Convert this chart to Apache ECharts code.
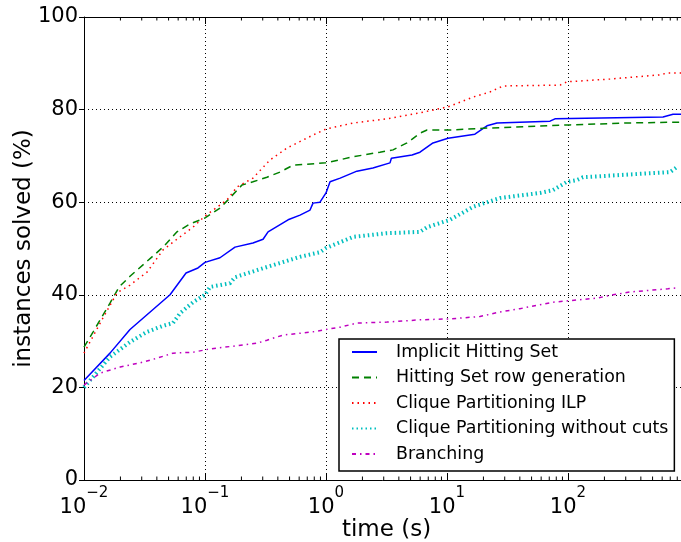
<!DOCTYPE html>
<html>
<head>
<meta charset="utf-8">
<script src="https://cdn.jsdelivr.net/npm/echarts@6/dist/echarts.min.js"></script>
<style>
html,body{margin:0;padding:0;background:#fff;}
#chart{width:681px;height:542px;}
</style>
</head>
<body>
<div id="chart"></div>
<script>
// ---- data ----
const seriesNames = [
  'Implicit Hitting Set',
  'Hitting Set row generation',
  'Clique Partitioning ILP',
  'Clique Partitioning without cuts',
  'Branching'
];
const ihsTime = [0.01, 0.0164, 0.024, 0.0514, 0.0697, 0.0875, 0.1, 0.133, 0.177, 0.249, 0.302, 0.332, 0.486, 0.61, 0.738, 0.781, 0.892, 1.0, 1.08, 1.31, 1.8, 2.44, 3.38, 3.47, 5.14, 5.98, 7.66, 10.2, 17.0, 21.4, 25.9, 71, 78, 610, 738, 860];
const ihsVal  = [21.5, 27.4, 32.5, 40, 44.7, 45.8, 47, 48, 50.3, 51.2, 52, 53.6, 56.2, 57.2, 58.3, 59.8, 60, 62, 64.4, 65.2, 66.7, 67.4, 68.5, 69.5, 70.2, 70.8, 72.8, 73.8, 74.7, 76.5, 77.1, 77.5, 78, 78.4, 79, 79];
const rowTime = [0.01, 0.0119, 0.0164, 0.0195, 0.024, 0.0365, 0.045, 0.0587, 0.0752, 0.1, 0.133, 0.155, 0.202, 0.249, 0.325, 0.417, 0.534, 1.0, 1.67, 2.79, 3.58, 4.67, 5.98, 6.84, 10.6, 21.4, 104, 307, 860];
const rowVal  = [28.7, 32, 38.2, 41.7, 44, 48.2, 50.3, 53.6, 55.3, 56.6, 58.7, 60.5, 63.7, 64.4, 65.4, 66.5, 68, 68.5, 69.8, 70.8, 71.3, 72.8, 74.9, 75.6, 75.6, 76, 76.7, 77.1, 77.3];
const ilpTime = [0.01, 0.0136, 0.0187, 0.024, 0.0332, 0.045, 0.0621, 0.0796, 0.1, 0.152, 0.184, 0.249, 0.344, 0.476, 0.781, 1.0, 1.67, 3.19, 5.98, 10.2, 11.2, 16.4, 22.6, 29, 86, 98, 222, 575, 658, 860];
const ilpVal  = [27.4, 33.9, 40.4, 42.1, 44.9, 49.7, 52.5, 54.6, 57, 60.5, 63.3, 65.2, 69.1, 71.7, 74.5, 75.8, 77.1, 78, 79.3, 80.6, 81, 82.7, 83.8, 85.1, 85.3, 86, 86.6, 87.5, 87.9, 87.9];
const ncTime  = [0.01, 0.0119, 0.0164, 0.024, 0.0332, 0.045, 0.0544, 0.0621, 0.0796, 0.1, 0.11, 0.161, 0.177, 0.325, 0.61, 0.892, 1.0, 1.67, 3.19, 5.98, 6.84, 10.6, 16.4, 27.4, 58.7, 75.2, 98, 119, 133, 697, 796];
const ncVal   = [20, 22.3, 26.6, 29.8, 32, 33.3, 33.9, 36, 38.4, 40, 41.7, 42.5, 43.8, 46, 48.2, 49.2, 50.1, 52.5, 53.3, 53.6, 54.6, 56.2, 59, 60.9, 62, 62.6, 64.4, 64.8, 65.4, 66.5, 67.6];
const brTime  = [0.01, 0.0136, 0.0199, 0.029, 0.04, 0.0544, 0.0796, 0.11, 0.17, 0.274, 0.325, 0.441, 0.781, 1.05, 1.31, 1.8, 3.19, 5.98, 10.6, 18.7, 27.4, 40, 75, 174, 235, 325, 670, 811];
const brVal   = [20.5, 23.1, 24.4, 25.3, 26.3, 27.4, 27.6, 28.3, 28.9, 29.6, 30.2, 31.3, 32, 32.6, 33, 33.9, 34.1, 34.6, 34.8, 35.3, 36.3, 37, 38.4, 39.3, 40, 40.6, 41.3, 41.5];
const yTicks = [0, 20, 40, 60, 80, 100];
const minorMultipliers = [2, 3, 4, 5, 6, 7, 8, 9];
const minorDecades = [0.01, 0.1, 1, 10, 100];

function pairs(t, v) { return t.map((x, i) => [x, v[i]]); }

const FONT = 'DejaVu Sans';
const minorTicks = [];
minorDecades.forEach(d => minorMultipliers.forEach(m => minorTicks.push([d * m, 0])));

const chart = echarts.init(document.getElementById('chart'), null, {renderer: 'canvas'});

function mkLine(name, t, v, color, width, dash) {
  return {
    name: name, type: 'line', data: pairs(t, v), xAxisIndex: 0, yAxisIndex: 0,
    symbol: 'none', showSymbol: false, animation: false, z: 3,
    lineStyle: {color: color, width: width, type: dash, cap: 'butt'},
    itemStyle: {color: color}
  };
}

const option = {
  animation: false,
  backgroundColor: '#fff',
  grid: {left: 84, top: 17, right: -8, bottom: 62, containLabel: false, outerBoundsMode: 'none'},
  xAxis: [{
    type: 'log', logBase: 10, min: 0.01, max: 1000, position: 'bottom',
    name: 'time (s)', nameLocation: 'middle', nameGap: 39, nameMoveOverlap: false,
    nameTextStyle: {fontFamily: FONT, fontSize: 23, color: '#000'},
    axisLine: {show: true, onZero: false, lineStyle: {color: '#000', width: 1}},
    axisTick: {show: true, inside: true, length: 7, lineStyle: {color: '#000'}},
    splitLine: {show: true, lineStyle: {color: '#000', width: 1, type: [1, 3]}},
    axisLabel: {
      showMaxLabel: false, margin: 6, color: '#000',
      formatter: function (v) {
        const e = Math.round(Math.log10(v));
        return '{b|10}{s|' + (e < 0 ? '\u2212' + (-e) : e) + '}';
      },
      rich: {
        b: {fontFamily: FONT, fontSize: 21, lineHeight: 32, verticalAlign: 'bottom', color: '#000'},
        s: {fontFamily: FONT, fontSize: 15, lineHeight: 14, verticalAlign: 'top', color: '#000'}
      }
    }
  }, {
    type: 'log', logBase: 10, min: 0.01, max: 1000, position: 'top',
    axisLine: {show: true, onZero: false, lineStyle: {color: '#000', width: 1}},
    axisTick: {show: true, inside: true, length: 7, lineStyle: {color: '#000'}},
    axisLabel: {show: false}, splitLine: {show: false}
  }],
  yAxis: [{
    type: 'value', min: 0, max: 100, interval: 20,
    name: 'instances solved (%)', nameLocation: 'middle', nameGap: 48, nameMoveOverlap: false,
    nameTextStyle: {fontFamily: FONT, fontSize: 23, color: '#000'},
    axisLine: {show: true, lineStyle: {color: '#000', width: 1}},
    axisTick: {show: true, inside: false, length: 5, lineStyle: {color: '#000'}},
    splitLine: {show: true, lineStyle: {color: '#000', width: 1, type: [1, 3]}},
    axisLabel: {fontFamily: FONT, fontSize: 21, color: '#000', margin: 6,
      formatter: function (v) { return yTicks.indexOf(v) >= 0 ? String(v) : ''; }}
  }],
  legend: {
    data: seriesNames, orient: 'vertical', left: 339, top: 339,
    backgroundColor: '#fff', borderColor: '#000', borderWidth: 1.5, borderRadius: 0,
    padding: [3, 6, 7, 12], itemGap: 5.5, itemWidth: 25, itemHeight: 14,
    itemStyle: {opacity: 0},
    textStyle: {fontFamily: FONT, fontSize: 17.4, lineHeight: 20, color: '#000', padding: [0, 0, 0, 14]},
    selectedMode: false
  },
  series: [
    mkLine(seriesNames[0], ihsTime, ihsVal, '#0000ff', 1.5, 'solid'),
    mkLine(seriesNames[1], rowTime, rowVal, '#008000', 1.5, [7, 5]),
    mkLine(seriesNames[2], ilpTime, ilpVal, '#ff0000', 1.5, [1.5, 4]),
    mkLine(seriesNames[3], ncTime, ncVal, '#00bfbf', 4, [1.5, 3]),
    mkLine(seriesNames[4], brTime, brVal, '#bf00bf', 1.5, [4, 4, 1.5, 4]),
    {
      type: 'custom', name: 'minorTicks', data: minorTicks, silent: true, z: 4,
      encode: {x: 0, y: 1}, clip: false,
      renderItem: function (params, api) {
        const x = api.value(0);
        const pb = api.coord([x, 0]);
        const pt = api.coord([x, 100]);
        return {type: 'group', children: [
          {type: 'line', shape: {x1: pb[0], y1: pb[1], x2: pb[0], y2: pb[1] - 3.5}, style: {stroke: '#000', lineWidth: 1}},
          {type: 'line', shape: {x1: pt[0], y1: pt[1], x2: pt[0], y2: pt[1] + 3.5}, style: {stroke: '#000', lineWidth: 1}}
        ]};
      }
    }
  ]
};
chart.setOption(option);
</script>
</body>
</html>
